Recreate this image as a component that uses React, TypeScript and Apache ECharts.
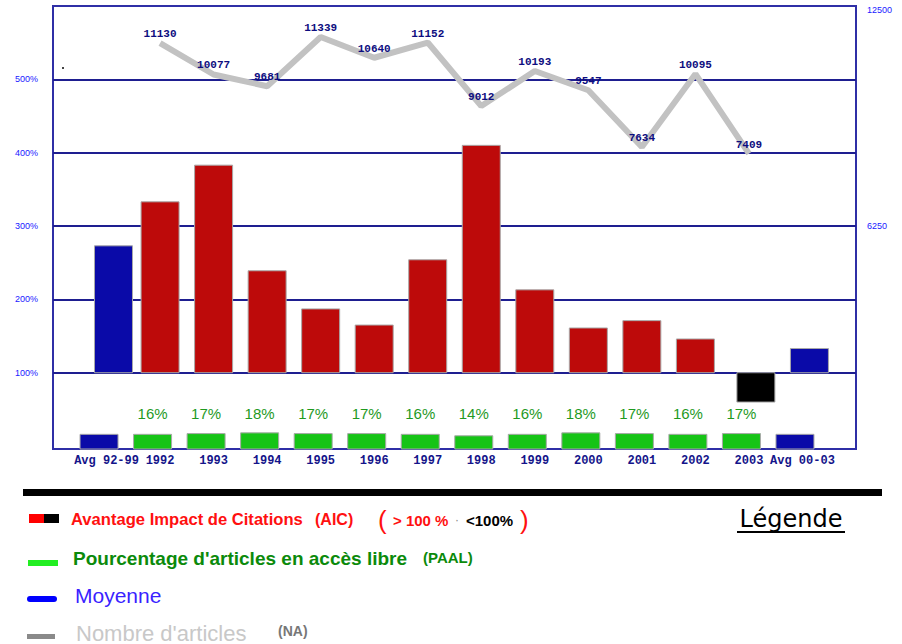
import React, { useEffect, useRef } from 'react';
import * as echarts from 'echarts';

// ---- Data ----
const categories = ['Avg 92-99', '1992', '1993', '1994', '1995', '1996', '1997', '1998', '1999', '2000', '2001', '2002', '2003', 'Avg 00-03'];
// Avantage Impact de Citations (AIC), in %
const aicValues = [273, 333, 383, 239, 187, 165, 254, 410, 213, 161, 171, 146, 60, 133];
// Pourcentage d'articles en accès libre (PAAL), in %
const paalValues = [16, 16, 17, 18, 17, 17, 16, 14, 16, 18, 17, 16, 17, 16];
// Nombre d'articles (NA)
const naYears = ['1992', '1993', '1994', '1995', '1996', '1997', '1998', '1999', '2000', '2001', '2002', '2003'];
const naValues = [11130, 10077, 9681, 11339, 10640, 11152, 9012, 10193, 9547, 7634, 10095, 7409];
// Tick labels
const leftTicks = [100, 200, 300, 400, 500];
const rightTicks = [6250, 12500];

const isAvg = (i: number) => categories[i].startsWith('Avg');

export default function App() {
  const ref = useRef<HTMLDivElement>(null);

  useEffect(() => {
    if (!ref.current) return;
    const chart = echarts.init(ref.current, undefined, { renderer: 'svg' });

    const greenData = paalValues.map((v, i) => [i + 1 - 0.14, v, i]);
    const bigData = aicValues.map((v, i) => [i + 1 + (isAvg(i) || v < 100 ? 0.13 : 0), v, i]);
    const lineData = naValues.map((v, k) => [categories.indexOf(naYears[k]) + 1, v]);

    const option: any = {
      animation: false,
      backgroundColor: '#ffffff',
      grid: [
        { left: 53, right: 46, top: 6, bottom: 198, show: false },
        { left: 53, right: 46, top: 6, bottom: 195, show: true, borderColor: '#2f2fa6', borderWidth: 2, backgroundColor: 'transparent' },
      ],
      xAxis: [
        { gridIndex: 0, type: 'value', min: 0, max: 15, show: false },
        {
          gridIndex: 1, type: 'value', min: 0, max: 15, interval: 1,
          axisLine: { show: false }, axisTick: { show: false }, splitLine: { show: false },
          axisLabel: {
            formatter: (v: number) => categories[Math.round(v) - 1] ?? '',
            color: '#14148a', fontFamily: 'Liberation Mono', fontWeight: 'bold', fontSize: 12, margin: 6,
            showMinLabel: true, showMaxLabel: true,
          },
        },
      ],
      yAxis: [
        {
          gridIndex: 0, type: 'value', min: 0, max: 600, interval: 100, position: 'left',
          axisLine: { show: false }, axisTick: { show: false },
          splitLine: { show: true, showMinLine: false, showMaxLine: false, lineStyle: { color: '#1e1e90', width: 2 } },
          axisLabel: {
            formatter: (v: number) => (leftTicks.includes(v) ? v + '%' : ''),
            color: '#2020ff', fontSize: 9, fontFamily: 'Liberation Sans', margin: 15,
          },
        },
        {
          gridIndex: 0, type: 'value', min: 0, max: 12500, interval: 6250, position: 'right',
          axisLine: { show: false }, axisTick: { show: false }, splitLine: { show: false },
          axisLabel: {
            formatter: (v: number) => (v === 12500 ? '{t|12500}' : rightTicks.includes(v) ? String(v) : ''),
            color: '#2020ff', fontSize: 9, fontFamily: 'Liberation Sans', margin: 11,
            rich: { t: { padding: [8, 0, 0, 0], color: '#2020ff', fontSize: 9, fontFamily: 'Liberation Sans' } },
          },
        },
        { gridIndex: 1, type: 'value', min: -4, max: 600, show: false },
        { gridIndex: 1, type: 'value', min: -2536, max: 12383, show: false },
      ],
      series: [
        {
          name: 'PAAL', type: 'custom', xAxisIndex: 1, yAxisIndex: 2, z: 3,
          data: greenData,
          renderItem: (params: any, api: any) => {
            const x = api.value(0);
            const v = api.value(1);
            const i = api.value(2);
            const base = api.coord([x, -4]);
            const top = api.coord([x, v]);
            const children: any[] = [
              {
                type: 'rect',
                shape: { x: base[0] - 19, y: top[1], width: 38, height: base[1] - top[1] },
                style: { fill: isAvg(i) ? '#0a0aa8' : '#16c416', stroke: '#a8a8a8', lineWidth: 1 },
              },
            ];
            if (!isAvg(i)) {
              const zero = api.coord([x, 0]);
              children.push({
                type: 'text',
                x: base[0], y: zero[1] - 33,
                style: { text: v + '%', fill: '#1f9a1f', fontSize: 15, fontFamily: 'Liberation Sans', align: 'center', verticalAlign: 'middle' },
              });
            }
            return { type: 'group', children };
          },
        },
        {
          name: 'AIC', type: 'custom', xAxisIndex: 1, yAxisIndex: 2, z: 3,
          data: bigData,
          renderItem: (params: any, api: any) => {
            const x = api.value(0);
            const v = api.value(1);
            const i = api.value(2);
            const p0 = api.coord([x, 100]);
            const p1 = api.coord([x, v]);
            const fill = isAvg(i) ? '#0a0aa8' : v < 100 ? '#000000' : '#bd0a0a';
            return {
              type: 'rect',
              shape: { x: p0[0] - 19, y: Math.min(p0[1], p1[1]), width: 38, height: Math.abs(p1[1] - p0[1]) },
              style: { fill, stroke: '#a8a8a8', lineWidth: 1 },
            };
          },
        },
        {
          name: 'NA', type: 'line', xAxisIndex: 1, yAxisIndex: 3, z: 5,
          data: lineData,
          symbol: 'circle', symbolSize: 1,
          itemStyle: { color: 'rgba(0,0,0,0)' },
          lineStyle: { color: '#c2c2c2', width: 6 },
          label: {
            show: true, position: 'top', distance: 3,
            formatter: (p: any) => String(p.value[1]),
            color: '#0d0d80', fontFamily: 'Liberation Mono', fontWeight: 'bold', fontSize: 11,
          },
        },
      ],
      graphic: [
        { type: 'rect', x: 62, y: 67, shape: { width: 2, height: 2 }, style: { fill: '#444' } },
        // separator
        { type: 'rect', x: 23, y: 489, shape: { width: 859, height: 7 }, style: { fill: '#000' } },
        // Row 1
        { type: 'rect', x: 29, y: 514, shape: { width: 15, height: 9 }, style: { fill: '#ff0000' } },
        { type: 'rect', x: 44, y: 514, shape: { width: 15, height: 9 }, style: { fill: '#000000' } },
        { type: 'text', x: 71, y: 519, style: { text: 'Avantage Impact de Citations', fill: '#ff1010', font: 'bold 16.6px "Liberation Sans"', align: 'left', verticalAlign: 'middle' } },
        { type: 'text', x: 315, y: 519, style: { text: '(AIC)', fill: '#ff1010', font: 'bold 16px "Liberation Sans"', align: 'left', verticalAlign: 'middle' } },
        { type: 'text', x: 378, y: 520, style: { text: '(', fill: '#ff1010', font: '26px "Liberation Sans"', align: 'left', verticalAlign: 'middle' } },
        { type: 'text', x: 393, y: 520, style: { text: '> 100 %', fill: '#ff1010', font: 'bold 15px "Liberation Sans"', align: 'left', verticalAlign: 'middle' } },
        { type: 'text', x: 455, y: 520, style: { text: '·', fill: '#888', font: '12px "Liberation Sans"', align: 'left', verticalAlign: 'middle' } },
        { type: 'text', x: 466, y: 520, style: { text: '<100%', fill: '#000', font: 'bold 15px "Liberation Sans"', align: 'left', verticalAlign: 'middle' } },
        { type: 'text', x: 520, y: 520, style: { text: ')', fill: '#ff1010', font: '26px "Liberation Sans"', align: 'left', verticalAlign: 'middle' } },
        // Row 2
        { type: 'rect', x: 28, y: 560, shape: { width: 30, height: 6 }, style: { fill: '#22ee22' } },
        { type: 'text', x: 73, y: 558, style: { text: "Pourcentage d'articles en accès libre", fill: '#0b8a0b', font: 'bold 19px "Liberation Sans"', align: 'left', verticalAlign: 'middle' } },
        { type: 'text', x: 423, y: 557, style: { text: '(PAAL)', fill: '#0b8a0b', font: 'bold 15px "Liberation Sans"', align: 'left', verticalAlign: 'middle' } },
        // Row 3
        { type: 'rect', x: 27, y: 596, shape: { width: 30, height: 6, r: 3 }, style: { fill: '#0000ff' } },
        { type: 'text', x: 75, y: 595, style: { text: 'Moyenne', fill: '#3a1fff', font: '21px "Liberation Sans"', align: 'left', verticalAlign: 'middle' } },
        // Row 4
        { type: 'rect', x: 27, y: 634, shape: { width: 28, height: 5 }, style: { fill: '#8a8a8a' } },
        { type: 'text', x: 76, y: 633, style: { text: "Nombre d'articles", fill: '#c8c8c8', font: '22px "Liberation Sans"', align: 'left', verticalAlign: 'middle' } },
        { type: 'text', x: 278, y: 631, style: { text: '(NA)', fill: '#777777', font: 'bold 14px "Liberation Sans"', align: 'left', verticalAlign: 'middle' } },
        // Légende
        { type: 'text', x: 791, y: 519, style: { text: 'Légende', fill: '#000', font: '24px "DejaVu Sans"', align: 'center', verticalAlign: 'middle' } },
        { type: 'rect', x: 737, y: 531, shape: { width: 108, height: 2 }, style: { fill: '#000' } },
      ],
    };

    chart.setOption(option);
    return () => chart.dispose();
  }, []);

  return <div ref={ref} style={{ position: 'fixed', left: 0, top: 0, width: 902, height: 644 }} />;
}
